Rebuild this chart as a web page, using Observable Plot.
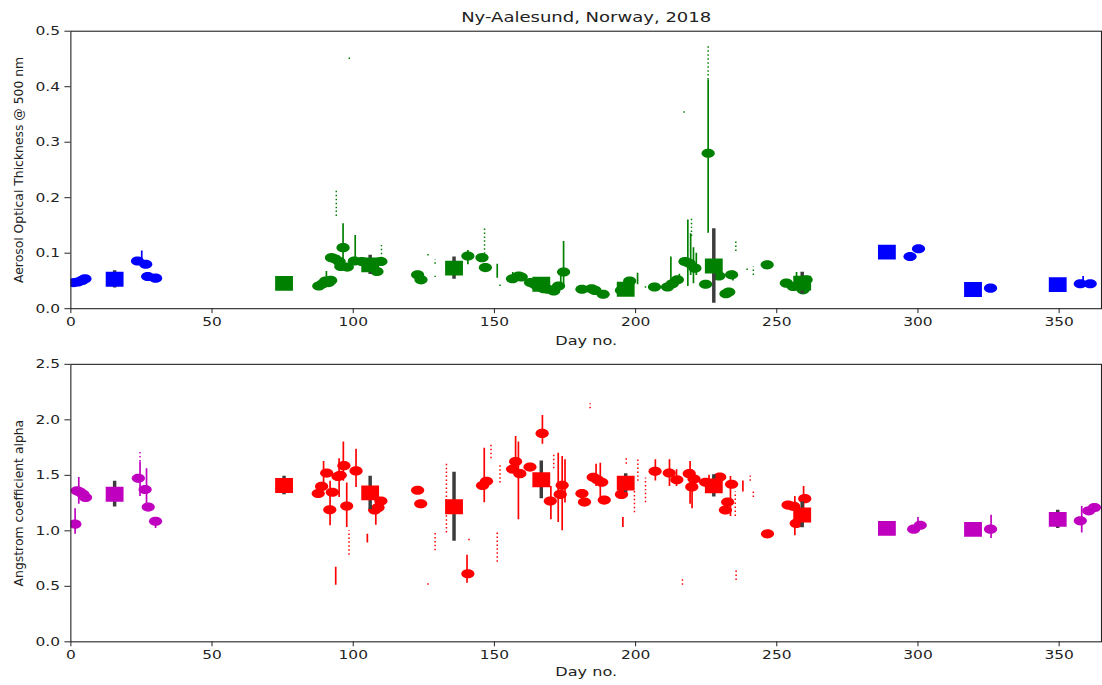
<!DOCTYPE html>
<html><head><meta charset="utf-8">
<script src="https://cdn.jsdelivr.net/npm/d3@7"></script>
<script src="https://cdn.jsdelivr.net/npm/@observablehq/plot@0.6"></script>
<style>
html,body{margin:0;padding:0;background:#fff;overflow:hidden;width:1102px;height:685px;}
#chart{position:relative;width:1102px;height:685px;overflow:hidden;background:#fff}
#chart svg{display:block;background:transparent;overflow:visible}
</style></head><body><div id="chart"></div>
<script>
// ---- text ----
const title = "Ny-Aalesund, Norway, 2018";
const xLabel = "Day no.";
const aotLabel = "Aerosol Optical Thickness @ 500 nm";
const alphaLabel = "Angstrom coefficient alpha";

// ---- ticks ----
const dayTicks = [0, 50, 100, 150, 200, 250, 300, 350];
const aotTicks = [0.0, 0.1, 0.2, 0.3, 0.4, 0.5];
const alphaTicks = [0.0, 0.5, 1.0, 1.5, 2.0, 2.5];

// ---- monthly means (day of mid-month) ----
const monthDays = [15.5, 75.5, 106, 135.7, 166.6, 196.5, 227.7, 259, 289, 319.5, 349.5];
const aotMonthly = [0.053, 0.0455, 0.079, 0.073, 0.044, 0.035, 0.077, 0.046, 0.102, 0.0345, 0.0434];
const aotMonthlyStd = [0.0155, 0.006, 0.0175, 0.020, 0.008, 0.008, 0.067, 0.0196, 0.006, 0.004, 0.006];
const alphaMonthly = [1.33, 1.408, 1.342, 1.217, 1.46, 1.43, 1.405, 1.143, 1.022, 1.013, 1.103];
const alphaMonthlyStd = [0.116, 0.083, 0.15, 0.31, 0.17, 0.084, 0.10, 0.116, 0.03, 0.03, 0.082];

// ---- daily means [day, value] ----
const aotDaily = [
  [1,0.047],[2.5,0.048],[4,0.051],[5,0.054],
  [23.6,0.086],[26.5,0.080],[27.2,0.058],[30,0.055],
  [87.8,0.041],[89.2,0.045],[90.2,0.050],[91.3,0.047],[92,0.051],
  [92.3,0.092],[93.5,0.090],[95,0.085],[95.6,0.076],[96.4,0.110],[97.9,0.075],[100.4,0.086],[103,0.085],[105,0.083],[108.4,0.067],[109.8,0.085],
  [122.8,0.061],[124,0.052],
  [140.6,0.095],[145.6,0.092],[146.8,0.074],
  [156.4,0.054],[158.6,0.059],[159.5,0.057],[162.8,0.047],[164.5,0.043],[167.5,0.036],[169,0.035],[171,0.032],[172.7,0.041],[174.5,0.066],
  [181,0.035],[184.4,0.036],[185.6,0.033],[188.5,0.026],
  [195,0.033],[197.9,0.050],[206.7,0.039],[211.3,0.039],[213,0.045],[214.8,0.052],
  [217.5,0.085],[219,0.082],[221,0.073],[224.8,0.044],[225.7,0.280],[229.5,0.059],[232,0.027],[233,0.030],[234,0.061],
  [246.6,0.079],
  [253.4,0.046],[255.8,0.040],[259.3,0.034],[260.4,0.052],
  [297.2,0.094],[300.2,0.108],
  [325.7,0.037],
  [357.5,0.045],[361,0.045]
];
const alphaDaily = [
  [1.4,1.06],[2.2,1.36],[3.2,1.35],[4.3,1.33],[5.2,1.30],
  [23.9,1.473],[26.3,1.372],[27.4,1.214],[30,1.086],
  [87.6,1.336],[88.8,1.40],[90.6,1.52],[91.7,1.19],[92.6,1.348],[94.6,1.49],[95.4,1.50],[96.7,1.587],[97.7,1.223],[101,1.54],
  [107.6,1.188],[108.8,1.21],[109.8,1.268],
  [122.8,1.366],[123.9,1.244],
  [140.6,0.613],[145.8,1.408],[147.2,1.446],
  [156.4,1.556],[157.5,1.625],[159,1.515],[162.6,1.574],[166.9,1.878],[169.8,1.268],[173.3,1.328],[174,1.41],
  [181,1.336],[181.9,1.259],[185,1.482],[186.5,1.46],[188,1.438],[188.9,1.277],[195,1.328],
  [206.9,1.536],[211.9,1.52],[214.6,1.46],[219,1.515],[219.9,1.396],[220.7,1.467],[224.8,1.438],[229.8,1.485],[231.8,1.188],[232.6,1.259],[234,1.42],
  [246.7,0.973],[254,1.232],[256,1.22],[256.9,1.067],[259.9,1.29],
  [298.5,1.015],[300.8,1.05],
  [325.7,1.015],
  [357.5,1.09],[360.5,1.18],[362.5,1.21]
];

// ---- spread of individual measurements [day, low, high] ----
const aotSpread = [
  [25.1,0.088,0.104],[358.5,0.040,0.058],
  [90.5,0.045,0.067],[96.4,0.085,0.153],[100.7,0.079,0.132],[140.6,0.079,0.105],[151,0.055,0.080],
  [156.5,0.050,0.065],[158,0.050,0.062],[174.5,0.038,0.121],[173.5,0.045,0.062],[200.7,0.043,0.064],
  [212.5,0.043,0.093],[215.5,0.045,0.062],[218.5,0.040,0.160],[219.5,0.060,0.135],[220.5,0.045,0.110],
  [221.5,0.060,0.100],[225.7,0.136,0.412],[234.5,0.050,0.068],[257,0.050,0.065]
];
const aotSparse = [
  [94,0.166,0.216],[98.6,0.449,0.453],[110,0.090,0.114],[126.5,0.095,0.100],[129,0.080,0.088],[129,0.056,0.060],
  [146.5,0.091,0.148],[152,0.040,0.046],[203.5,0.037,0.041],[217.2,0.352,0.356],[219.8,0.130,0.165],
  [225.7,0.412,0.472],[235.5,0.103,0.124],[239.5,0.069,0.075],[241.7,0.060,0.075]
];
const alphaSpread = [
  [1.5,0.97,1.20],[2.8,1.24,1.48],[24.5,1.31,1.62],[26.8,1.20,1.56],[30,1.02,1.10],
  [300,1.00,1.12],[325.9,0.93,1.14],[358,0.98,1.22],
  [89.5,1.43,1.625],[91.8,1.045,1.446],[93.8,0.509,0.672],[95,1.30,1.65],[96.5,1.446,1.80],[97.7,1.03,1.43],
  [101,1.39,1.735],[105,0.89,0.97],[108,1.05,1.32],[140.3,0.527,0.78],[146.4,1.253,1.745],[157.5,1.54,1.85],
  [158.5,1.10,1.80],[167,1.78,2.04],[170,1.10,1.40],[172.6,1.075,1.70],[174,1.00,1.67],[175,1.25,1.64],
  [186,1.40,1.60],[187.5,1.25,1.61],[195.5,1.03,1.12],[207,1.45,1.64],[212,1.40,1.64],[214.5,1.40,1.55],
  [219.3,1.24,1.625],[220,1.20,1.55],[226,1.35,1.50],[233.6,1.13,1.49],[238,1.35,1.45],[256.4,0.955,1.31],[259.5,1.20,1.40]
];
const alphaSparse = [
  [24.5,1.62,1.71],
  [98.5,0.78,1.00],[126.5,0.51,0.54],[129,0.82,0.985],[133,0.98,1.60],[141,0.91,0.94],[148.8,1.65,1.77],
  [151,0.717,0.985],[152,1.43,1.60],[171,1.56,1.69],[183.9,2.10,2.146],[196.7,1.60,1.66],[199.6,1.163,1.357],
  [200.8,1.446,1.645],[203.5,1.253,1.476],[216.6,0.51,0.57],[235.3,1.13,1.35],[235.6,0.553,0.643],
  [240.6,1.446,1.51],[241.7,1.30,1.35]
];

// ---- marker shapes ----
const ellipseSymbol = {draw(ctx, size) {
  const r = Math.sqrt(size / Math.PI), rx = r * 1.45, ry = r, k = 0.5523;
  ctx.moveTo(rx, 0);
  ctx.bezierCurveTo(rx, ry * k, rx * k, ry, 0, ry);
  ctx.bezierCurveTo(-rx * k, ry, -rx, ry * k, -rx, 0);
  ctx.bezierCurveTo(-rx, -ry * k, -rx * k, -ry, 0, -ry);
  ctx.bezierCurveTo(rx * k, -ry, rx, -ry * k, rx, 0);
  ctx.closePath();
}};
const rectSymbol = {draw(ctx, size) {
  const r = Math.sqrt(size / Math.PI), w = r * 2.4, h = r * 2;
  ctx.rect(-w / 2, -h / 2, w, h);
}};

function panel({daily, mVals, mStd, spread, sparse, yDomain, yTicks, yLabel, colors, height, marginTop, marginBottom, labelDy, titleText}) {
  const col = d => (d < 60 || d >= 274) ? colors[0] : colors[1];
  const monthly = monthDays.map((d, i) => ({day: d, v: mVals[i], s: mStd[i]}));
  const marks = [
    Plot.ruleX(spread, {x: d => d[0], y1: d => d[1], y2: d => d[2], stroke: d => col(d[0]), strokeWidth: 1.7, clip: true}),
    Plot.ruleX(sparse, {x: d => d[0], y1: d => d[1], y2: d => d[2], stroke: d => col(d[0]), strokeWidth: 1.5, strokeDasharray: "1.5,2.5", clip: true}),
    Plot.dot(daily, {x: d => d[0], y: d => d[1], fill: d => col(d[0]), symbol: ellipseSymbol, r: 4.6, clip: true}),
    Plot.ruleX(monthly, {x: "day", y1: d => d.v - d.s, y2: d => d.v + d.s, stroke: "#3c3c3c", strokeWidth: 3.5, clip: true}),
    Plot.dot(monthly, {x: "day", y: "v", fill: d => col(d.day), symbol: rectSymbol, r: 7.5, clip: true}),
    Plot.frame({stroke: "#222", strokeWidth: 1.1}),
    Plot.axisX({ticks: dayTicks, tickSize: 5, tickPadding: 4, label: null, tickFormat: d => String(d)}),
    Plot.axisY({ticks: yTicks, tickSize: 6, tickPadding: 5, label: null, tickFormat: d3.format(".1f")}),
    Plot.text([xLabel], {frameAnchor: "bottom", lineAnchor: "middle", dy: labelDy, text: d => d, fontSize: 12.5}),
    Plot.text([yLabel], {frameAnchor: "left", textAnchor: "middle", lineAnchor: "middle", dx: -52.5, rotate: -90, text: d => d, fontSize: 12.5})
  ];
  if (titleText) marks.push(Plot.text([titleText], {frameAnchor: "top", lineAnchor: "middle", dy: -14, text: d => d, fontSize: 14}));
  return Plot.plot({
    width: 1112, height, marginLeft: 71, marginRight: 1, marginTop, marginBottom,
    x: {domain: [0, 365]},
    y: {domain: yDomain},
    color: {type: "identity"},
    style: {fontFamily: "'DejaVu Sans', sans-serif", fontSize: "12px", color: "#222", background: "transparent", overflow: "visible"},
    marks
  });
}

const chartEl = document.getElementById("chart");
const topPanel = panel({daily: aotDaily, mVals: aotMonthly, mStd: aotMonthlyStd, spread: aotSpread, sparse: aotSparse,
  yDomain: [0, 0.5], yTicks: aotTicks, yLabel: aotLabel, colors: ["#0000ff", "#008000"],
  height: 350, marginTop: 31, marginBottom: 39, labelDy: 33, titleText: title});
const bottomPanel = panel({daily: alphaDaily, mVals: alphaMonthly, mStd: alphaMonthlyStd, spread: alphaSpread, sparse: alphaSparse,
  yDomain: [0, 2.5], yTicks: alphaTicks, yLabel: alphaLabel, colors: ["#bf00bf", "#ff0000"],
  height: 335, marginTop: 17, marginBottom: 38, labelDy: 30.5});
chartEl.appendChild(topPanel);
chartEl.appendChild(bottomPanel);

// the reference is horizontally stretched: widen horizontal text accordingly
for (const svg of [topPanel, bottomPanel]) {
  for (const t of svg.querySelectorAll("text")) {
    const tr = (t.getAttribute("transform") || "");
    if (tr.includes("rotate")) continue;
    const L = t.getComputedTextLength();
    if (L > 0) { t.setAttribute("textLength", (L * 1.3).toFixed(1)); t.setAttribute("lengthAdjust", "spacingAndGlyphs"); }
  }
}
</script></body></html>
